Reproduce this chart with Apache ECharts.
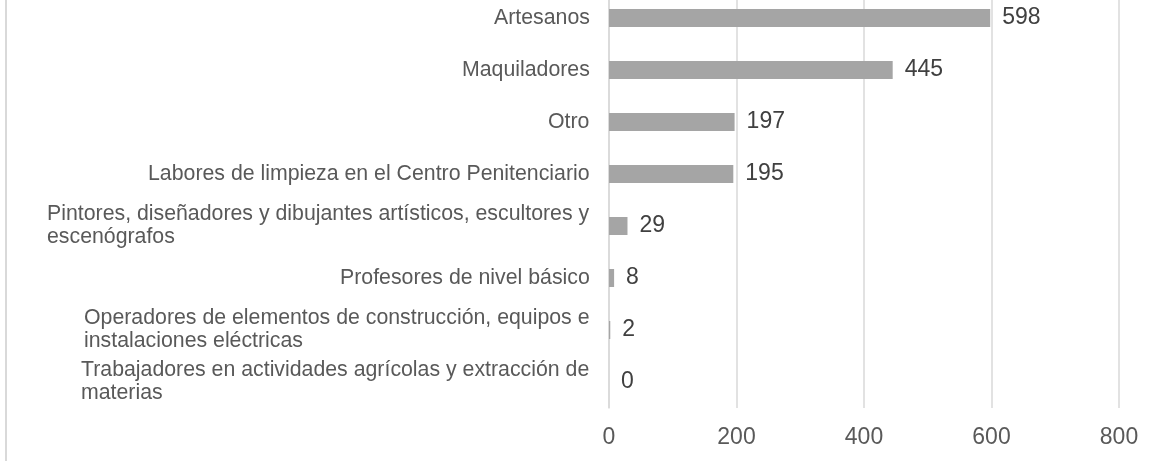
<!DOCTYPE html>
<html>
<head>
<meta charset="utf-8">
<script src="https://cdn.jsdelivr.net/npm/echarts@6/dist/echarts.min.js"></script>
<style>
  html, body { margin: 0; padding: 0; background: #fff; overflow: hidden; }
  #frame { position: absolute; left: 5px; top: 0; width: 1150px; height: 461px; border-left: 2px solid #d9d9d9; box-sizing: border-box; }
  #chart { position: absolute; left: 0; top: -8px; width: 1155px; height: 469px; }
</style>
</head>
<body>
<div id="frame"></div>
<div id="chart"></div>
<script>
var categories = [
  'Artesanos',
  'Maquiladores',
  'Otro',
  'Labores de limpieza en el Centro Penitenciario',
  'Pintores, diseñadores y dibujantes artísticos, escultores y\nescenógrafos',
  'Profesores de nivel básico',
  'Operadores de elementos de construcción, equipos e\ninstalaciones eléctricas',
  'Trabajadores en actividades agrícolas y extracción de\nmaterias'
];
var values = [598, 445, 197, 195, 29, 8, 2, 0];
var xTicks = [0, 200, 400, 600, 800];

var fontFam = '"Liberation Sans", Arial, sans-serif';
var catSize = 21.3;

// medir cada renglon para alinear a la izquierda los textos de dos lineas
var ctx = document.createElement('canvas').getContext('2d');
ctx.font = catSize + 'px ' + fontFam;
var rich = {};
for (var i = 0; i < categories.length; i++) {
  var lines = categories[i].split('\n');
  var w = 0;
  for (var j = 0; j < lines.length; j++) {
    w = Math.max(w, Math.ceil(ctx.measureText(lines[j]).width));
  }
  rich['c' + i] = { width: w, align: 'left', fontSize: catSize, color: '#595959',
    fontFamily: fontFam, lineHeight: 23 };
}

var myChart = echarts.init(document.getElementById('chart'));
var option = {
  animation: false,
  grid: { left: 609, right: 36, top: 0, bottom: 53, containLabel: false },
  xAxis: {
    type: 'value', min: xTicks[0], max: xTicks[xTicks.length - 1], interval: 200,
    axisLine: { show: false },
    axisTick: { show: false },
    splitLine: { lineStyle: { color: '#d9d9d9', width: 1.5 } },
    axisLabel: { color: '#595959', fontSize: 23, margin: 18, fontFamily: fontFam }
  },
  yAxis: {
    type: 'category', inverse: true, data: categories,
    axisLine: { show: true, lineStyle: { color: '#d9d9d9', width: 1.5 } },
    axisTick: { show: false },
    axisLabel: {
      margin: 19, align: 'right',
      formatter: function (value, index) {
        return value.split('\n').map(function (s) { return '{c' + index + '|' + s + '}'; }).join('\n');
      },
      rich: rich
    }
  },
  series: [{
    type: 'bar', data: values, barWidth: 18,
    itemStyle: { color: '#a5a5a5' },
    label: { show: true, position: 'right', distance: 12, color: '#404040', fontSize: 23,
      fontFamily: fontFam }
  }]
};
myChart.setOption(option);
</script>
</body>
</html>
